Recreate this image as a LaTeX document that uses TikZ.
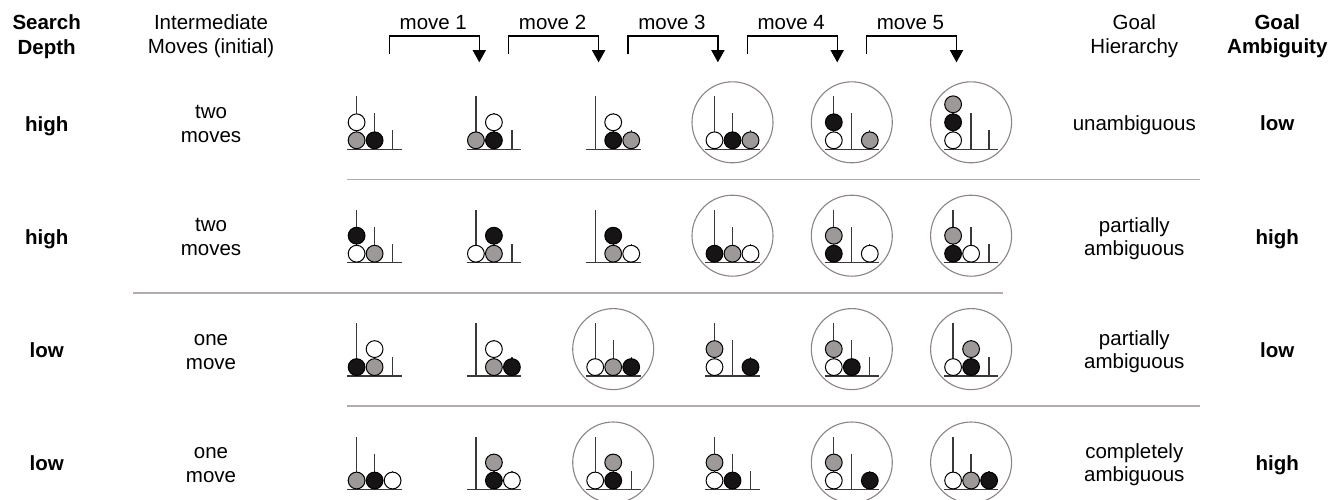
\documentclass[tikz,border=0pt]{standalone}
\usepackage{fontspec}
\setmainfont{Liberation Sans}
\usetikzlibrary{arrows.meta}
\definecolor{ballgray}{RGB}{158,153,153}
\definecolor{ballblack}{RGB}{22,20,20}
\definecolor{pegcol}{RGB}{60,56,56}
\definecolor{ringcol}{RGB}{140,132,132}
\definecolor{sepcol}{RGB}{178,172,172}
\colorlet{tw}{white}
\colorlet{tg}{ballgray}
\colorlet{tk}{ballblack}
% board: tall peg x, base y
\newcommand\tolat[2]{\def\cx{#1}\def\cy{#2}%
  \draw[pegline] ({#1-9.3},#2) -- ({#1+45.3},#2);
  \draw[pegline] (#1,#2) -- (#1,{#2-53});
  \draw[pegline] ({#1+18},#2) -- ({#1+18},{#2-36});
  \draw[pegline] ({#1+36},#2) -- ({#1+36},{#2-19});}
% ball: peg index, level, colour
\newcommand\tolb[3]{\filldraw[ballst,fill=#3] ({\cx+18*#1},{\cy-9-18*#2}) circle[radius=8.4];}
\newcommand\tolring{\draw[ringst] ({\cx+18},{\cy-27}) circle[radius=40.5];}
\begin{document}
\begin{tikzpicture}[x=1pt,y=-1pt,
  pegline/.style={draw=pegcol,line width=1.3pt},
  ballst/.style={draw=black,line width=1pt},
  ringst/.style={draw=ringcol,line width=1.1pt},
  sepline/.style={draw=sepcol,line width=1.6pt},
  bracket/.style={draw=black,line width=1.2pt},
  lab/.style={font=\fontsize{20.5}{24}\selectfont,anchor=base,inner sep=0pt},
  blab/.style={lab,font=\fontsize{20.5}{24}\selectfont\bfseries}]
\useasboundingbox (0,0) rectangle (1341,499);
\clip (0,0) rectangle (1341,499);

% headers
\node[blab] (sd1) at (46.7,29.3) {Search};
\node[blab] (sd2) at (46.7,54) {Depth};
\node[lab] (im1) at (211,29.3) {Intermediate};
\node[lab] (im2) at (211,53.3) {Moves (initial)};
\node[lab] (gh1) at (1134.3,29.3) {Goal};
\node[lab] (gh2) at (1134.3,53) {Hierarchy};
\node[blab] (ga1) at (1277.3,29.3) {Goal};
\node[blab] (ga2) at (1277.3,53) {Ambiguity};

% move brackets
\foreach \k in {1,...,5}{
  \pgfmathsetmacro\lx{389.3+119.3*(\k-1)}
  \pgfmathsetmacro\rx{479.3+119.3*(\k-1)}
  \coordinate (mL\k) at (\lx,54);
  \coordinate (mT\k) at (\rx,36);
  \coordinate (mA\k) at (\rx,62.3);
  \node[lab] (mv\k) at ({(\lx+\rx)/2-1},29.3) {move \k};
  \draw[bracket,-{Triangle[length=12.3pt,width=13.3pt]}] (mL\k) |- (mT\k) -- (mA\k);
}

% row labels
\node[blab] (r1a) at (46.7,131) {high};
\node[blab] (r2a) at (46.7,244.3) {high};
\node[blab] (r3a) at (46.7,357.3) {low};
\node[blab] (r4a) at (46.7,470) {low};
\node[lab] (r1b1) at (211,118.3) {two};
\node[lab] (r1b2) at (211,142.7) {moves};
\node[lab] (r2b1) at (211,231) {two};
\node[lab] (r2b2) at (211,255.7) {moves};
\node[lab] (r3b1) at (211,345) {one};
\node[lab] (r3b2) at (211,369.3) {move};
\node[lab] (r4b1) at (211,458.3) {one};
\node[lab] (r4b2) at (211,482.3) {move};
\node[lab] (r1c) at (1134.3,130.7) {unambiguous};
\node[lab] (r2c1) at (1134.3,232.3) {partially};
\node[lab] (r2c2) at (1134.3,255) {ambiguous};
\node[lab] (r3c1) at (1134.3,345.7) {partially};
\node[lab] (r3c2) at (1134.3,368.3) {ambiguous};
\node[lab] (r4c1) at (1134.3,458.3) {completely};
\node[lab] (r4c2) at (1134.3,481.7) {ambiguous};
\node[blab] (r1d) at (1277.3,130.7) {low};
\node[blab] (r2d) at (1277.3,244.3) {high};
\node[blab] (r3d) at (1277.3,357.3) {low};
\node[blab] (r4d) at (1277.3,470) {high};

% separators
\coordinate (s1a) at (347.3,179.3); \coordinate (s1b) at (1200,179.3);
\coordinate (s2a) at (133.3,292.7); \coordinate (s2b) at (1003,292.7);
\coordinate (s3a) at (347.3,405.8); \coordinate (s3b) at (1200,405.8);
\draw[sepline] (s1a) -- (s1b);
\draw[sepline] (s2a) -- (s2b);
\draw[sepline] (s3a) -- (s3b);

% row 1
\tolat{356.6}{149.3}\tolb00{tg}\tolb01{tw}\tolb10{tk}
\tolat{475.9}{149.3}\tolb00{tg}\tolb10{tk}\tolb11{tw}
\tolat{595.2}{149.3}\tolb10{tk}\tolb11{tw}\tolb20{tg}
\tolat{714.5}{149.3}\tolring\tolb00{tw}\tolb10{tk}\tolb20{tg}
\tolat{833.8}{149.3}\tolring\tolb00{tw}\tolb01{tk}\tolb20{tg}
\tolat{953.1}{149.3}\tolring\tolb00{tw}\tolb01{tk}\tolb02{tg}
% row 2
\tolat{356.6}{262.7}\tolb00{tw}\tolb01{tk}\tolb10{tg}
\tolat{475.9}{262.7}\tolb00{tw}\tolb10{tg}\tolb11{tk}
\tolat{595.2}{262.7}\tolb10{tg}\tolb11{tk}\tolb20{tw}
\tolat{714.5}{262.7}\tolring\tolb00{tk}\tolb10{tg}\tolb20{tw}
\tolat{833.8}{262.7}\tolring\tolb00{tk}\tolb01{tg}\tolb20{tw}
\tolat{953.1}{262.7}\tolring\tolb00{tk}\tolb01{tg}\tolb10{tw}
% row 3
\tolat{356.6}{376.1}\tolb00{tk}\tolb10{tg}\tolb11{tw}
\tolat{475.9}{376.1}\tolb10{tg}\tolb11{tw}\tolb20{tk}
\tolat{595.2}{376.1}\tolring\tolb00{tw}\tolb10{tg}\tolb20{tk}
\tolat{714.5}{376.1}\tolb00{tw}\tolb01{tg}\tolb20{tk}
\tolat{833.8}{376.1}\tolring\tolb00{tw}\tolb01{tg}\tolb10{tk}
\tolat{953.1}{376.1}\tolring\tolb00{tw}\tolb10{tk}\tolb11{tg}
% row 4
\tolat{356.6}{489.5}\tolb00{tg}\tolb10{tk}\tolb20{tw}
\tolat{475.9}{489.5}\tolb10{tk}\tolb11{tg}\tolb20{tw}
\tolat{595.2}{489.5}\tolring\tolb00{tw}\tolb10{tk}\tolb11{tg}
\tolat{714.5}{489.5}\tolb00{tw}\tolb01{tg}\tolb10{tk}
\tolat{833.8}{489.5}\tolring\tolb00{tw}\tolb01{tg}\tolb20{tk}
\tolat{953.1}{489.5}\tolring\tolb00{tw}\tolb10{tg}\tolb20{tk}
\end{tikzpicture}
\end{document}
